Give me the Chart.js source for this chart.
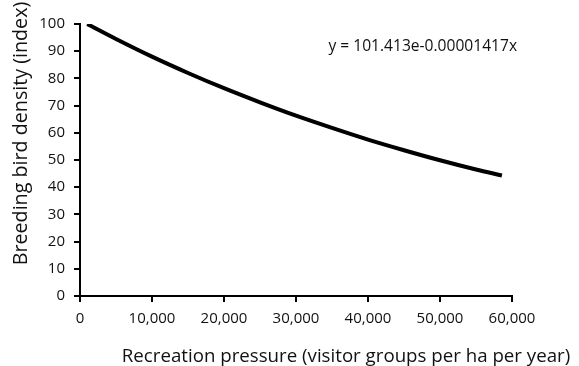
<!DOCTYPE html>
<html>
<head>
<meta charset="utf-8">
<script src="https://cdn.jsdelivr.net/npm/chart.js@4/dist/chart.umd.min.js"></script>
<style>
    html, body { margin: 0; padding: 0; background: #fff; }
    #wrap { width: 579px; height: 366px; }
</style>
</head>
<body>
<div id="wrap"><canvas id="densityChart" width="579" height="366"></canvas></div>
<script>
// Values
const pressure = [1000, 5000, 10000, 15000, 20000, 25000, 30000, 35000, 40000, 45000, 50000, 55000, 58600];
const density = [100.0, 94.5, 88.0, 82.0, 76.4, 71.2, 66.3, 61.8, 57.5, 53.6, 49.9, 46.5, 44.3];
const equationLabel = 'y = 101.413e-0.00001417x';
const xTitle = 'Recreation pressure (visitor groups per ha per year)';
const yTitle = 'Breeding bird density (index)';

const FONT = 'Open Sans';

// Equation text and the two axis titles (the reference places them off-centre)
const labelsPlugin = {
    id: 'labels',
    afterDraw(chart) {
        const ctx = chart.ctx;
        const area = chart.chartArea;
        ctx.save();
        ctx.fillStyle = '#111';

        ctx.font = '15.6px "' + FONT + '"';
        ctx.textAlign = 'left';
        ctx.textBaseline = 'middle';
        ctx.fillText(equationLabel, chart.scales.x.getPixelForValue(34500), area.top + 23);

        ctx.font = '18.7px "' + FONT + '"';
        ctx.textAlign = 'center';
        ctx.textBaseline = 'alphabetic';
        ctx.fillText(xTitle, 346, 361.5);

        ctx.font = '19.7px "' + FONT + '"';
        ctx.translate(26.5, 133.5);
        ctx.rotate(-Math.PI / 2);
        ctx.fillText(yTitle, 0, 0);
        ctx.restore();
    }
};

const ctx = document.getElementById('densityChart').getContext('2d');
new Chart(ctx, {
    type: 'line',
    data: {
        datasets: [{
            data: pressure.map((p, i) => ({ x: p, y: density[i] })),
            borderColor: '#000',
            borderWidth: 4,
            pointRadius: 0,
            fill: false,
            cubicInterpolationMode: 'monotone'
        }]
    },
    options: {
        responsive: false,
        animation: false,
        layout: { padding: { top: 24, right: 67, left: 0, bottom: 0 } },
        plugins: {
            legend: { display: false },
            tooltip: { enabled: false }
        },
        scales: {
            x: {
                type: 'linear',
                min: 0,
                max: 60000,
                afterFit(scale) { scale.height = 70; },
                border: { display: true, color: '#000', width: 2 },
                grid: { drawOnChartArea: false, drawTicks: true, tickLength: 6, color: '#000', lineWidth: 2 },
                ticks: {
                    stepSize: 10000,
                    color: '#111',
                    padding: 8,
                    maxRotation: 0,
                    font: { family: FONT, size: 15 },
                    callback: v => v.toLocaleString('en-US')
                }
            },
            y: {
                min: 0,
                max: 100,
                afterFit(scale) { scale.width = 80; },
                border: { display: true, color: '#000', width: 2 },
                grid: { drawOnChartArea: false, drawTicks: true, tickLength: 6, color: '#000', lineWidth: 2 },
                ticks: {
                    stepSize: 10,
                    color: '#111',
                    padding: 9,
                    font: { family: FONT, size: 15 }
                }
            }
        }
    },
    plugins: [labelsPlugin]
});
</script>
</body>
</html>
